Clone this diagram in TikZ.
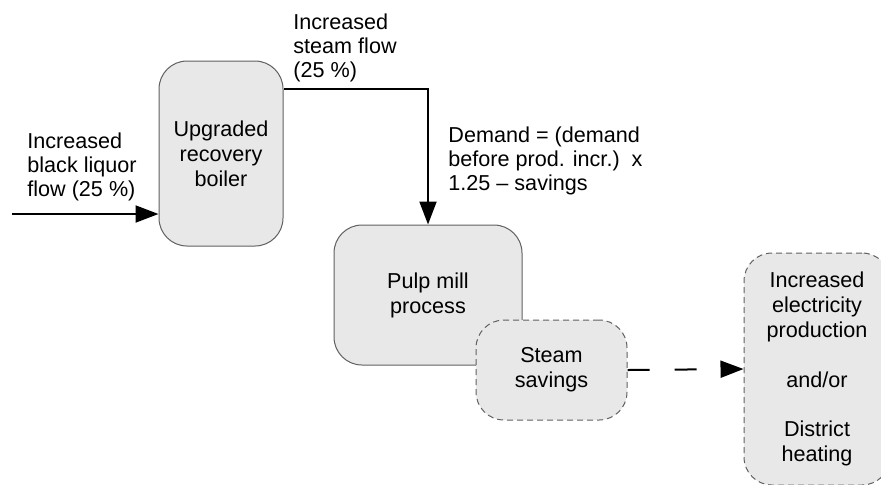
\documentclass[tikz,border=0pt]{standalone}
\usepackage{fontspec}
\setmainfont{Liberation Sans}
\usetikzlibrary{arrows.meta,positioning,calc}

\begin{document}
\begin{tikzpicture}[x=0.5pt, y=-0.5pt,
  unit/.style={draw=gray!75!black, fill=gray!18, line width=0.5pt, rounded corners=14pt,
    align=center, inner sep=0pt, font=\fontsize{10.8}{12.4}\selectfont},
  extra/.style={unit, dash pattern=on 3pt off 2pt},
  flow/.style={-{Triangle[length=11.5pt, width=8.5pt]}, line width=1pt},
  note/.style={anchor=north west, align=left, inner sep=0pt, font=\fontsize{10.8}{12.1}\selectfont}]
  \useasboundingbox (0,0) rectangle (881,484);

  % Units
  \node[unit, minimum width=62pt, minimum height=92.5pt] (boiler) at (221,153.5) {Upgraded\\recovery\\boiler};
  \node[unit, minimum width=94pt, minimum height=70pt] (pulp) at (428,295) {Pulp mill\\process};
  \node[extra, minimum width=75.5pt, minimum height=50pt] (savings) at (551.5,370) {Steam\\savings};
  \node[extra, minimum width=73pt, minimum height=116pt] (result) at (817,369)
    {Increased\\electricity\\production\\[12.4pt]and/or\\[12.4pt]District\\heating};

  % Flows
  \coordinate (liquor) at (12,214);
  \draw[flow] (liquor) -- (liquor -| boiler.west);
  \draw[flow] ($(boiler.north east)+(0,28)$) -| (pulp.north);
  \draw[flow, dash pattern=on 11pt off 12.5pt] (savings.east) -- (result.west);

  % Labels
  \node[note] (liquorlabel) at (27,132) {Increased\\black liquor\\flow (25 \%)};
  \node[note] (steamlabel) at (293,13) {Increased\\steam flow\\(25 \%)};
  \node[note] (demand) at (448,126) {Demand = (demand\\before prod. incr.)~~x\\1.25 -- savings};
\end{tikzpicture}
\end{document}
